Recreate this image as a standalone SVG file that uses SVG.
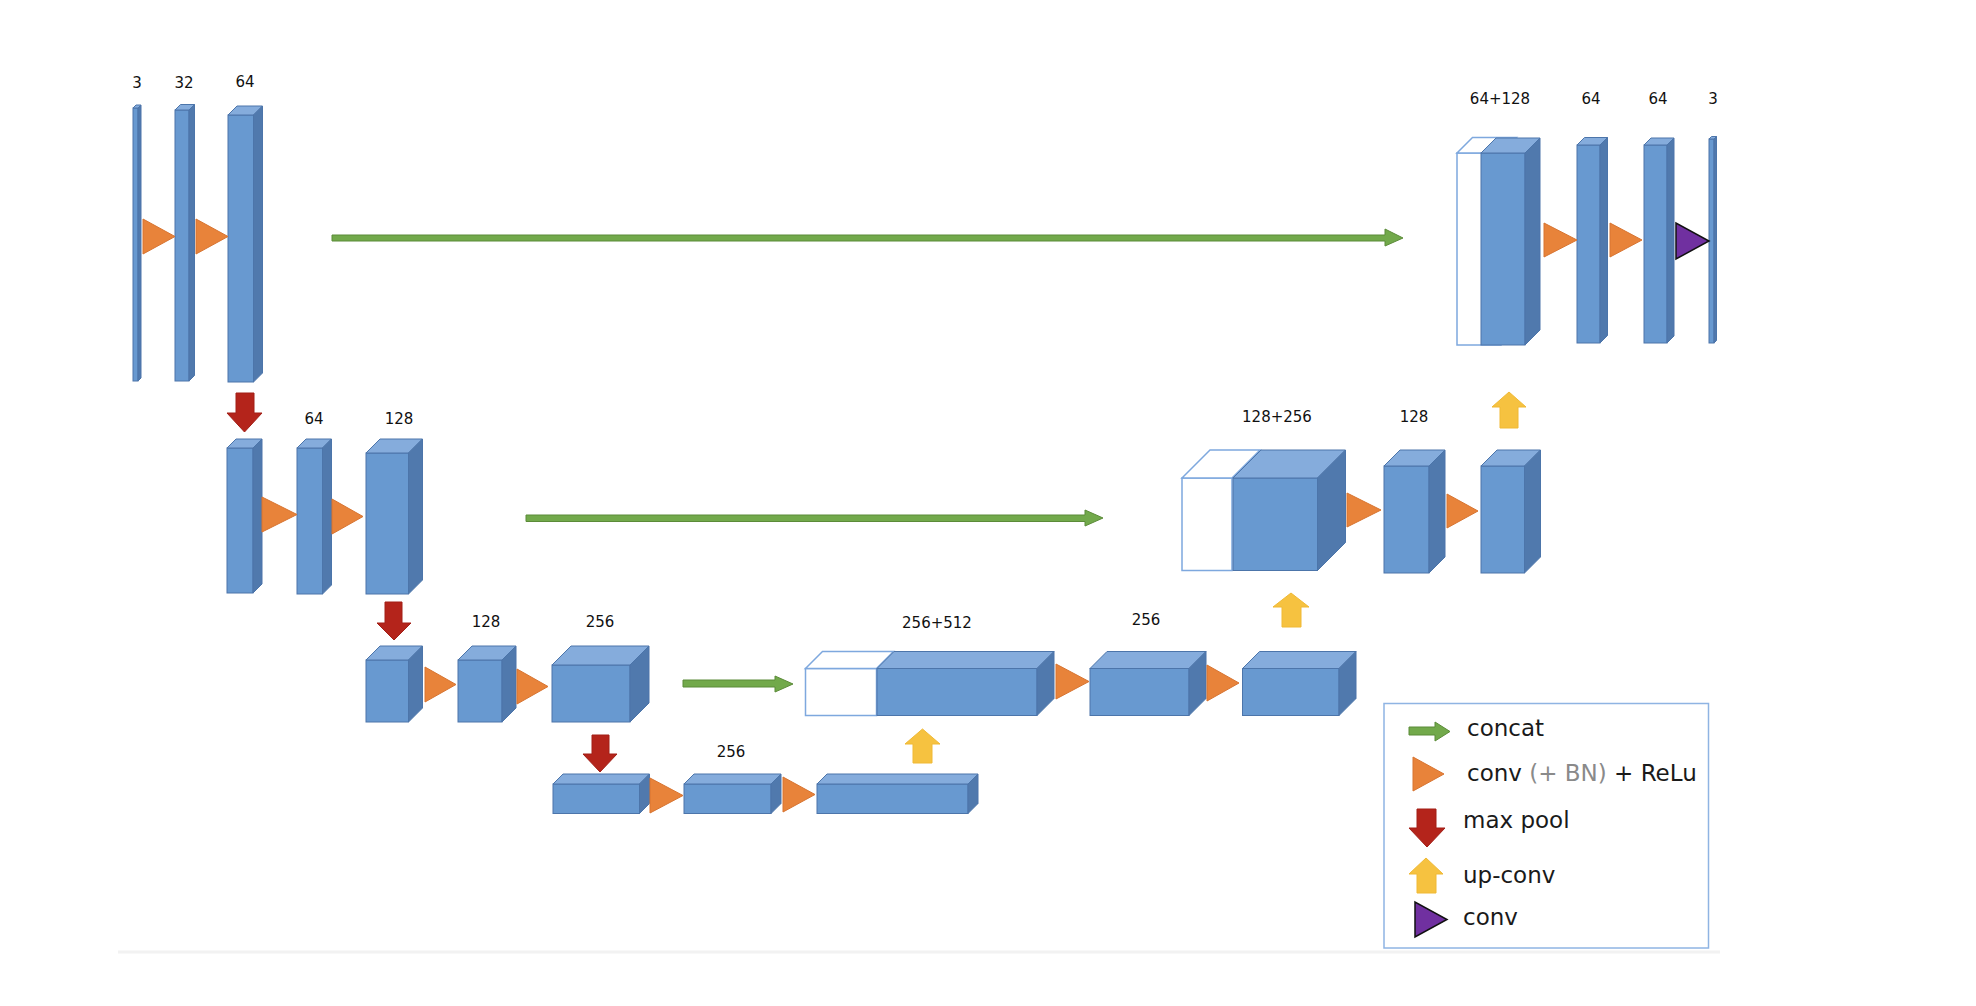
<svg xmlns="http://www.w3.org/2000/svg" width="1976" height="1006" viewBox="0 0 1976 1006">
<style>
.fr{fill:#6899d0;stroke:#4c75aa;stroke-width:1}
.tp{fill:#85acdc;stroke:#4c75aa;stroke-width:1}
.sd{fill:#5079ad;stroke:#4c75aa;stroke-width:1}
.wh{fill:#ffffff;stroke:#7ea8de;stroke-width:1.5}
.cv{fill:#e8833a;stroke:#d77431;stroke-width:1}
.pc{fill:#7030a0;stroke:#111111;stroke-width:1.5}
.mp{fill:#b4241b;stroke:#a21f17;stroke-width:1}
.up{fill:#f6c240;stroke:#f0b935;stroke-width:1}
.cc{fill:#72a94b;stroke:#5b8b38;stroke-width:1}
.lb{font-family:"DejaVu Sans",Verdana,sans-serif;font-size:15px;fill:#111111;text-anchor:middle}
.lg{font-family:"DejaVu Sans",Verdana,sans-serif;font-size:23px;fill:#1a1a1a}
</style>
<rect x="0" y="0" width="1976" height="1006" fill="#ffffff"/>
<line x1="118" y1="952" x2="1720" y2="952" stroke="#f2f2f2" stroke-width="3"/>

<!-- labels -->
<g id="labels">
<text class="lb" x="137" y="88">3</text>
<text class="lb" x="184" y="88">32</text>
<text class="lb" x="245" y="87">64</text>
<text class="lb" x="314" y="424">64</text>
<text class="lb" x="399" y="424">128</text>
<text class="lb" x="486" y="627">128</text>
<text class="lb" x="600" y="627">256</text>
<text class="lb" x="731" y="757">256</text>
<text class="lb" x="1500" y="104">64+128</text>
<text class="lb" x="1591" y="104">64</text>
<text class="lb" x="1658" y="104">64</text>
<text class="lb" x="1713" y="104">3</text>
<text class="lb" x="1277" y="422">128+256</text>
<text class="lb" x="1414" y="422">128</text>
<text class="lb" x="937" y="628">256+512</text>
<text class="lb" x="1146" y="625">256</text>
</g>

<!-- encoder level 1 -->
<g id="e1a"><rect class="fr" x="133" y="108" width="5" height="273"/><polygon class="tp" points="133,108 136,105 141,105 138,108"/><polygon class="sd" points="138,108 141,105 141,378 138,381"/></g>
<g id="e1b"><rect class="fr" x="175" y="110" width="14" height="271"/><polygon class="tp" points="175,110 180.5,104.5 194.5,104.5 189,110"/><polygon class="sd" points="189,110 194.5,104.5 194.5,375.5 189,381"/></g>
<g id="e1c"><rect class="fr" x="228" y="115" width="25.5" height="267"/><polygon class="tp" points="228,115 237,106 262.5,106 253.5,115"/><polygon class="sd" points="253.5,115 262.5,106 262.5,373 253.5,382"/></g>

<!-- encoder level 2 -->
<g id="e2a"><rect class="fr" x="227" y="448" width="26" height="145"/><polygon class="tp" points="227,448 236,439 262,439 253,448"/><polygon class="sd" points="253,448 262,439 262,584 253,593"/></g>
<g id="e2b"><rect class="fr" x="297" y="448" width="25.5" height="146"/><polygon class="tp" points="297,448 306,439 331.5,439 322.5,448"/><polygon class="sd" points="322.5,448 331.5,439 331.5,585 322.5,594"/></g>
<g id="e2c"><rect class="fr" x="366" y="453" width="42.5" height="141"/><polygon class="tp" points="366,453 380,439 422.5,439 408.5,453"/><polygon class="sd" points="408.5,453 422.5,439 422.5,580 408.5,594"/></g>

<!-- encoder level 3 -->
<g id="e3a"><rect class="fr" x="366" y="660" width="42.5" height="62"/><polygon class="tp" points="366,660 380,646 422.5,646 408.5,660"/><polygon class="sd" points="408.5,660 422.5,646 422.5,708 408.5,722"/></g>
<g id="e3b"><rect class="fr" x="458" y="660" width="44" height="62"/><polygon class="tp" points="458,660 472,646 516,646 502,660"/><polygon class="sd" points="502,660 516,646 516,708 502,722"/></g>
<g id="e3c"><rect class="fr" x="552" y="665" width="78" height="57"/><polygon class="tp" points="552,665 571,646 649,646 630,665"/><polygon class="sd" points="630,665 649,646 649,703 630,722"/></g>

<!-- bottleneck -->
<g id="b1"><rect class="fr" x="553" y="784" width="86.5" height="29.5"/><polygon class="tp" points="553,784 563,774 649.5,774 639.5,784"/><polygon class="sd" points="639.5,784 649.5,774 649.5,803.5 639.5,813.5"/></g>
<g id="b2"><rect class="fr" x="684" y="784" width="87" height="29.5"/><polygon class="tp" points="684,784 694,774 781,774 771,784"/><polygon class="sd" points="771,784 781,774 781,803.5 771,813.5"/></g>
<g id="b3"><rect class="fr" x="817" y="784" width="151" height="29.5"/><polygon class="tp" points="817,784 827,774 978,774 968,784"/><polygon class="sd" points="968,784 978,774 978,803.5 968,813.5"/></g>

<!-- decoder level 3 -->
<g id="d3a"><rect class="wh" x="805.5" y="668.5" width="71" height="47"/><polygon class="wh" points="805.5,668.5 822.5,651.5 893.5,651.5 876.5,668.5"/>
<rect class="fr" x="877" y="668.5" width="160" height="47"/><polygon class="tp" points="877,668.5 894,651.5 1054,651.5 1037,668.5"/><polygon class="sd" points="1037,668.5 1054,651.5 1054,698.5 1037,715.5"/></g>
<g id="d3b"><rect class="fr" x="1090" y="668.5" width="99" height="47"/><polygon class="tp" points="1090,668.5 1107,651.5 1206,651.5 1189,668.5"/><polygon class="sd" points="1189,668.5 1206,651.5 1206,698.5 1189,715.5"/></g>
<g id="d3c"><rect class="fr" x="1242.5" y="668.5" width="96.5" height="47"/><polygon class="tp" points="1242.5,668.5 1259.5,651.5 1356,651.5 1339,668.5"/><polygon class="sd" points="1339,668.5 1356,651.5 1356,698.5 1339,715.5"/></g>

<!-- decoder level 2 -->
<g id="d2a"><rect class="wh" x="1182" y="478" width="50" height="92.5"/><polygon class="wh" points="1182,478 1210,450 1260,450 1232,478"/>
<rect class="fr" x="1233" y="478" width="84.5" height="92.5"/><polygon class="tp" points="1233,478 1261,450 1345.5,450 1317.5,478"/><polygon class="sd" points="1317.5,478 1345.5,450 1345.5,542.5 1317.5,570.5"/></g>
<g id="d2b"><rect class="fr" x="1384" y="466" width="45" height="107"/><polygon class="tp" points="1384,466 1400,450 1445,450 1429,466"/><polygon class="sd" points="1429,466 1445,450 1445,557 1429,573"/></g>
<g id="d2c"><rect class="fr" x="1481" y="466" width="43.5" height="107"/><polygon class="tp" points="1481,466 1497,450 1540.5,450 1524.5,466"/><polygon class="sd" points="1524.5,466 1540.5,450 1540.5,557 1524.5,573"/></g>

<!-- decoder level 1 -->
<g id="d1a"><rect class="wh" x="1457" y="153" width="44" height="192"/><polygon class="wh" points="1457,153 1472.5,137.5 1516.5,137.5 1501,153"/>
<rect class="fr" x="1481" y="153" width="44" height="192"/><polygon class="tp" points="1481,153 1496,138 1540,138 1525,153"/><polygon class="sd" points="1525,153 1540,138 1540,330 1525,345"/></g>
<g id="d1b"><rect class="fr" x="1577" y="145" width="23" height="198"/><polygon class="tp" points="1577,145 1584.5,137.5 1607.5,137.5 1600,145"/><polygon class="sd" points="1600,145 1607.5,137.5 1607.5,335.5 1600,343"/></g>
<g id="d1c"><rect class="fr" x="1644" y="145" width="23" height="198"/><polygon class="tp" points="1644,145 1651,138 1674,138 1667,145"/><polygon class="sd" points="1667,145 1674,138 1674,336 1667,343"/></g>
<g id="d1d"><rect class="fr" x="1709" y="139" width="5" height="204"/><polygon class="tp" points="1709,139 1711.5,136.5 1716.5,136.5 1714,139"/><polygon class="sd" points="1714,139 1716.5,136.5 1716.5,340.5 1714,343"/></g>

<!-- connectors -->
<g id="connectors">
<polygon class="cv" points="143,219 143,254 175,236.5"/>
<polygon class="cv" points="196,219 196,254 228,236.5"/>
<polygon class="cv" points="262,497 262,532 297,514.5"/>
<polygon class="cv" points="332,499 332,534 363,516.5"/>
<polygon class="cv" points="425,667 425,702 456,684.5"/>
<polygon class="cv" points="517,669 517,704 548,686.5"/>
<polygon class="cv" points="650,778 650,813 683,795.5"/>
<polygon class="cv" points="783,777 783,812 815,794.5"/>
<polygon class="cv" points="1056,664 1056,699 1089,681.5"/>
<polygon class="cv" points="1207,665 1207,701 1239,683"/>
<polygon class="cv" points="1347,493 1347,527 1381,510"/>
<polygon class="cv" points="1447,494 1447,528 1478,511"/>
<polygon class="cv" points="1544,223 1544,257 1577,240"/>
<polygon class="cv" points="1610,223 1610,257 1642,240"/>
<polygon class="pc" points="1676,223 1676,259 1709,241"/>
<polygon class="mp" points="236,393 254,393 254,413 262,413 244.5,432 227,413 236,413"/>
<polygon class="mp" points="385,602 402,602 402,623 411,623 394,640 377,623 385,623"/>
<polygon class="mp" points="592,735 609,735 609,754 617,754 600,772 583,754 592,754"/>
<polygon class="up" points="913,763 932,763 932,744 940,744 922.5,729 905,744 913,744"/>
<polygon class="up" points="1282,627 1301,627 1301,607 1309,607 1291,593 1273,607 1282,607"/>
<polygon class="up" points="1500,428 1518,428 1518,407 1526,407 1509,392 1492,407 1500,407"/>
<polygon class="cc" points="332,235 1385,235 1385,229 1403,238 1385,246 1385,241 332,241"/>
<polygon class="cc" points="526,515 1085,515 1085,510 1103,518 1085,526 1085,521.5 526,521.5"/>
<polygon class="cc" points="683,680 775,680 775,676 793,684 775,692 775,687 683,687"/>
</g>

<!-- legend -->
<g id="legend">
<rect x="1384" y="703.5" width="324.5" height="244.5" fill="#ffffff" stroke="#8fb4e3" stroke-width="1.5"/>
<polygon class="cc" points="1409,727 1435,727 1435,722 1450,731.5 1435,741 1435,735 1409,735"/>
<text class="lg" x="1467" y="736">concat</text>
<polygon class="cv" points="1413,757 1413,791 1444,774"/>
<text class="lg" x="1467" y="781">conv <tspan fill="#8a8a8a">(+ BN)</tspan> + ReLu</text>
<polygon class="mp" points="1417,809 1436,809 1436,828 1445,828 1427,847 1409,828 1417,828"/>
<text class="lg" x="1463" y="828">max pool</text>
<polygon class="up" points="1417,893 1436,893 1436,874 1443,874 1426,858 1409,874 1417,874"/>
<text class="lg" x="1463" y="883">up-conv</text>
<polygon class="pc" points="1415,902 1415,937 1447,919.5"/>
<text class="lg" x="1463" y="925">conv</text>
</g>
</svg>
